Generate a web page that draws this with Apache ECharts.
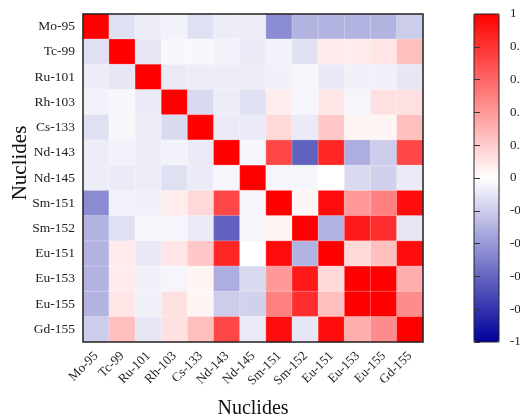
<!DOCTYPE html>
<html>
<head>
<meta charset="utf-8">
<script src="https://cdn.jsdelivr.net/npm/echarts@6/dist/echarts.min.js"></script>
<style>
  html, body { margin: 0; padding: 0; background: #fff; }
  #chart { width: 520px; height: 417px; }
</style>
</head>
<body>
<div id="chart"></div>
<script>
// nuclide names, same order on both axes
const nuclides = ['Mo-95', 'Tc-99', 'Ru-101', 'Rh-103', 'Cs-133', 'Nd-143', 'Nd-145',
  'Sm-151', 'Sm-152', 'Eu-151', 'Eu-153', 'Eu-155', 'Gd-155'];

// correlation matrix, rows top to bottom
const corr = [
  [1, -0.12, -0.07, -0.05, -0.12, -0.07, -0.07, -0.45, -0.3, -0.3, -0.3, -0.3, -0.2],
  [-0.12, 1, -0.1, -0.03, -0.03, -0.05, -0.08, -0.05, -0.12, 0.08, 0.08, 0.1, 0.25],
  [-0.07, -0.1, 1, -0.08, -0.07, -0.07, -0.07, -0.06, -0.04, -0.09, -0.06, -0.06, -0.1],
  [-0.05, -0.03, -0.08, 1, -0.15, -0.07, -0.12, 0.07, -0.04, 0.1, -0.04, 0.12, 0.12],
  [-0.12, -0.03, -0.07, -0.15, 1, -0.08, -0.08, 0.15, -0.08, 0.22, 0.04, 0.04, 0.25],
  [-0.07, -0.05, -0.07, -0.05, -0.08, 1, -0.04, 0.72, -0.62, 0.85, -0.32, -0.2, 0.72],
  [-0.07, -0.08, -0.07, -0.12, -0.08, -0.04, 1, -0.04, -0.04, 0, -0.15, -0.18, -0.08],
  [-0.45, -0.05, -0.06, 0.07, 0.15, 0.72, -0.04, 1, 0.04, 0.95, 0.4, 0.5, 0.95],
  [-0.3, -0.12, -0.04, -0.04, -0.08, -0.62, -0.04, 0.04, 1, -0.3, 0.9, 0.82, -0.1],
  [-0.3, 0.08, -0.09, 0.1, 0.22, 0.85, 0, 0.95, -0.3, 1, 0.15, 0.25, 0.95],
  [-0.3, 0.08, -0.06, -0.04, 0.04, -0.32, -0.15, 0.4, 0.9, 0.15, 1, 1, 0.32],
  [-0.3, 0.1, -0.06, 0.12, 0.04, -0.2, -0.18, 0.5, 0.82, 0.25, 1, 1, 0.45],
  [-0.2, 0.25, -0.1, 0.12, 0.25, 0.72, -0.08, 0.95, -0.1, 0.95, 0.32, 0.45, 1]
];

// colour bar scale
const barMin = -1;
const barMax = 1;
const barStep = 0.2;

const serif = 'Liberation Serif';

const cells = [];
corr.forEach((row, i) => {
  row.forEach((v, j) => {
    cells.push([j, i, v]);
  });
});

const chart = echarts.init(document.getElementById('chart'));
chart.setOption({
  animation: false,
  grid: [
    { left: 83, top: 14, width: 340, height: 328, outerBoundsMode: 'none',
      show: true, borderColor: '#222', borderWidth: 1.5, z: 10 },
    { left: 474, top: 14, width: 25, height: 328, outerBoundsMode: 'none',
      show: true, borderColor: '#222', borderWidth: 1, backgroundColor: 'transparent', z: 10 }
  ],
  xAxis: [
    {
      type: 'category', gridIndex: 0, data: nuclides,
      name: 'Nuclides', nameLocation: 'middle', nameGap: 57, nameMoveOverlap: false,
      nameTextStyle: { fontFamily: serif, fontSize: 20, color: '#111' },
      axisLine: { show: false }, axisTick: { show: false },
      axisLabel: { rotate: 45, fontFamily: serif, fontSize: 13, color: '#222', margin: 12 }
    },
    { type: 'value', gridIndex: 1, show: false }
  ],
  yAxis: [
    {
      type: 'category', gridIndex: 0, data: nuclides, inverse: true,
      name: 'Nuclides', nameLocation: 'middle', nameGap: 52, nameMoveOverlap: false,
      nameTextStyle: { fontFamily: serif, fontSize: 21, color: '#111', padding: [0, 0, 0, 30] },
      axisLine: { show: false }, axisTick: { show: false },
      axisLabel: { fontFamily: serif, fontSize: 13.5, color: '#222', margin: 8 }
    },
    {
      type: 'value', gridIndex: 1, position: 'right', min: barMin, max: barMax, interval: barStep,
      axisLine: { show: false }, splitLine: { show: false },
      axisTick: { show: true, length: 6, lineStyle: { color: '#333' } },
      axisLabel: { fontFamily: serif, fontSize: 13, color: '#222', margin: 11 },
      z: 10
    }
  ],
  visualMap: {
    type: 'continuous', min: barMin, max: barMax, calculable: false,
    orient: 'vertical', left: 474, top: 14, itemWidth: 25, itemHeight: 328,
    text: ['', ''], showLabel: false, padding: 0, z: 2,
    inRange: { color: ['#00009a', '#ffffff', '#ff0000'] },
    seriesIndex: 0
  },
  series: [{
    type: 'heatmap', xAxisIndex: 0, yAxisIndex: 0, data: cells,
    itemStyle: { borderColor: 'rgba(255,255,255,0.5)', borderWidth: 0.5 },
    emphasis: { disabled: true }
  }]
});
</script>
</body>
</html>
